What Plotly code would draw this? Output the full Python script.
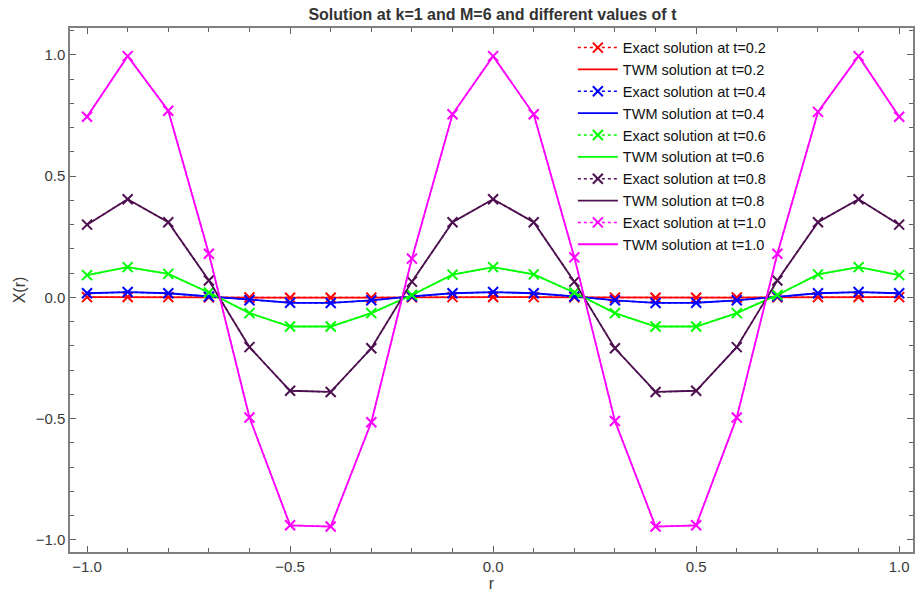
import plotly.graph_objects as go

# Grid points
r = [-1.0, -0.9, -0.8, -0.7, -0.6, -0.5, -0.4, -0.3, -0.2, -0.1, 0.0,
     0.1, 0.2, 0.3, 0.4, 0.5, 0.6, 0.7, 0.8, 0.9, 1.0]

# X(r) at each time level
x_t02 = [0.001, 0.0015, 0.001, 0.0002, -0.0007, -0.0014, -0.0014, -0.0008, 0.0002, 0.001, 0.0015,
         0.001, 0.0002, -0.0008, -0.0014, -0.0014, -0.0007, 0.0002, 0.001, 0.0015, 0.001]
x_t04 = [0.017, 0.022, 0.017, 0.004, -0.012, -0.022, -0.023, -0.012, 0.004, 0.017, 0.022,
         0.017, 0.004, -0.012, -0.023, -0.022, -0.012, 0.004, 0.017, 0.022, 0.017]
x_t06 = [0.092, 0.125, 0.097, 0.02, -0.065, -0.12, -0.12, -0.065, 0.01, 0.094, 0.125,
         0.095, 0.02, -0.065, -0.12, -0.12, -0.065, 0.01, 0.095, 0.125, 0.092]
x_t08 = [0.30, 0.405, 0.31, 0.07, -0.205, -0.385, -0.39, -0.21, 0.065, 0.31, 0.405,
         0.31, 0.065, -0.21, -0.39, -0.385, -0.205, 0.07, 0.31, 0.405, 0.30]
x_t10 = [0.745, 0.995, 0.77, 0.18, -0.495, -0.94, -0.945, -0.515, 0.16, 0.755, 0.995,
         0.755, 0.165, -0.51, -0.945, -0.94, -0.495, 0.18, 0.765, 0.995, 0.745]

times = ["0.2", "0.4", "0.6", "0.8", "1.0"]
series = [x_t02, x_t04, x_t06, x_t08, x_t10]
colors = ["#FF0000", "#0000FF", "#00FF00", "#4E1050", "#FF00FF"]

FONT = "Liberation Sans, Arial, sans-serif"

fig = go.Figure()
for t, vals, c in zip(times, series, colors):
    fig.add_trace(go.Scatter(
        x=r, y=vals, mode="lines+markers",
        name=f"Exact solution at t={t}", legendgroup=f"e{t}",
        line=dict(color=c, width=1.5, dash="dot"),
        marker=dict(symbol="x-thin", size=10, line=dict(color=c, width=2)),
    ))
    fig.add_trace(go.Scatter(
        x=r, y=vals, mode="lines",
        name=f"TWM solution at t={t}", legendgroup=f"w{t}",
        line=dict(color=c, width=1.8),
    ))

axis_common = dict(
    showline=True, mirror="ticks", linecolor="#808080", linewidth=1.5,
    ticks="inside", ticklen=6, tickcolor="#606060", tickwidth=1,
    showgrid=False, zeroline=False,
    tickfont=dict(family=FONT, size=15, color="#3a3a3a"),
)
ticks_major = [-1.0, -0.5, 0.0, 0.5, 1.0]
ticks_text = ["\u22121.0", "\u22120.5", "0.0", "0.5", "1.0"]

fig.update_xaxes(
    range=[-1.042, 1.034], tickvals=ticks_major, ticktext=ticks_text,
    minor=dict(dtick=0.1, tick0=0, ticks="inside", ticklen=4, tickcolor="#606060"),
    title=dict(text="r", standoff=4, font=dict(family=FONT, size=16, color="#3a3a3a")),
    **axis_common,
)
fig.update_yaxes(
    range=[-1.05, 1.111], tickvals=ticks_major, ticktext=ticks_text,
    minor=dict(dtick=0.1, tick0=0, ticks="inside", ticklen=4, tickcolor="#606060"),
    title=dict(text="X(r)", standoff=6, font=dict(family=FONT, size=16, color="#3a3a3a")),
    **axis_common,
)

fig.update_layout(
    width=917, height=596,
    margin=dict(l=70, r=2, t=28, b=44),
    paper_bgcolor="white", plot_bgcolor="white",
    title=dict(text="<b>Solution at k=1 and M=6 and different values of t</b>",
               x=0.537, xanchor="center", y=0.985, yanchor="top",
               font=dict(family=FONT, size=16, color="#333333")),
    legend=dict(x=0.5965, xanchor="left", y=0.993, yanchor="top",
                bgcolor="rgba(0,0,0,0)", tracegroupgap=0, itemwidth=40,
                font=dict(family=FONT, size=14.5, color="#111111")),
    showlegend=True,
)

fig.write_html("out.html")
